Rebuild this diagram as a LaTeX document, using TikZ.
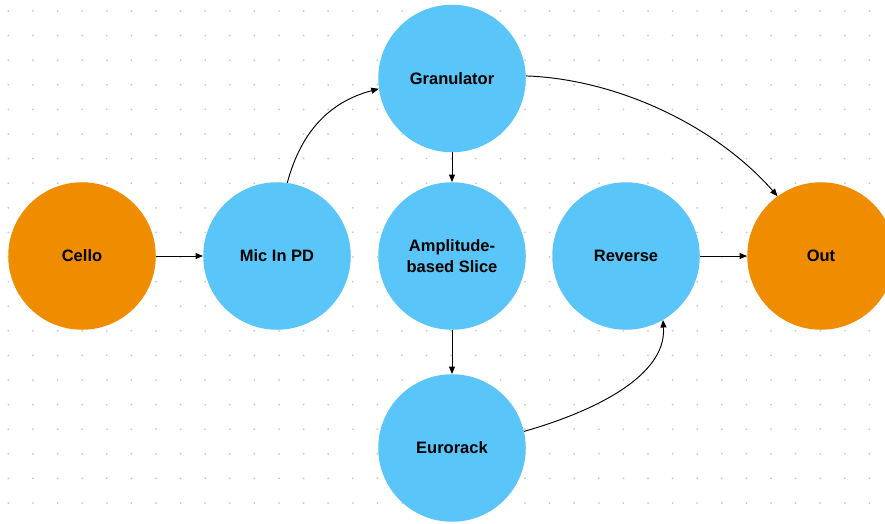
\documentclass[tikz,border=0pt]{standalone}
\usepackage{fontspec}
\setmainfont{Liberation Sans}
\usetikzlibrary{arrows.meta}
\definecolor{nodeblue}{HTML}{5AC5F8}
\definecolor{nodeorange}{HTML}{F08C00}
\definecolor{dotgray}{HTML}{C8C8C8}
\tikzset{
  bubble/.style={circle, minimum size=147.5pt, inner sep=0pt, fill=nodeblue, font=\fontsize{16.5}{21}\selectfont\bfseries, align=center, text=black},
  endbubble/.style={bubble, fill=nodeorange},
  link/.style={line width=0.95pt, draw=black, -{Triangle[length=7.5pt,width=6pt]}}
}
\begin{document}
\begin{tikzpicture}[x=1pt,y=-1pt]
\useasboundingbox (0,0) rectangle (885,524);
\fill[white] (0,0) rectangle (885,524);
% dot grid
\foreach \i in {0,...,35} {
  \foreach \j in {0,...,21} {
    \fill[dotgray] ({8.4+24.6*\i},{11+24.6*\j}) circle (1pt);
  }
}
\node[endbubble] (cello) at (82,256) {Cello};
\node[bubble] (mic) at (277,256) {Mic In PD};
\node[bubble] (gran) at (452,78.5) {Granulator};
\node[bubble] (amp) at (452,256) {Amplitude-\\based Slice};
\node[bubble] (euro) at (452,448) {Eurorack};
\node[bubble] (rev) at (626,256) {Reverse};
\node[endbubble] (out) at (821,256) {Out};

\draw[link] (cello) -- (mic);
\draw[link] (gran) -- (amp);
\draw[link] (amp) -- (euro);
\draw[link] (rev) -- (out);
\draw[link] (mic.82) .. controls (301,132) and (329,102) .. (gran.188);
\draw[link] (gran.2) .. controls (616,79) and (715,125) .. (out.126);
\draw[link] (euro.13) .. controls (582,415) and (667,380) .. (rev.300);
\end{tikzpicture}
\end{document}
